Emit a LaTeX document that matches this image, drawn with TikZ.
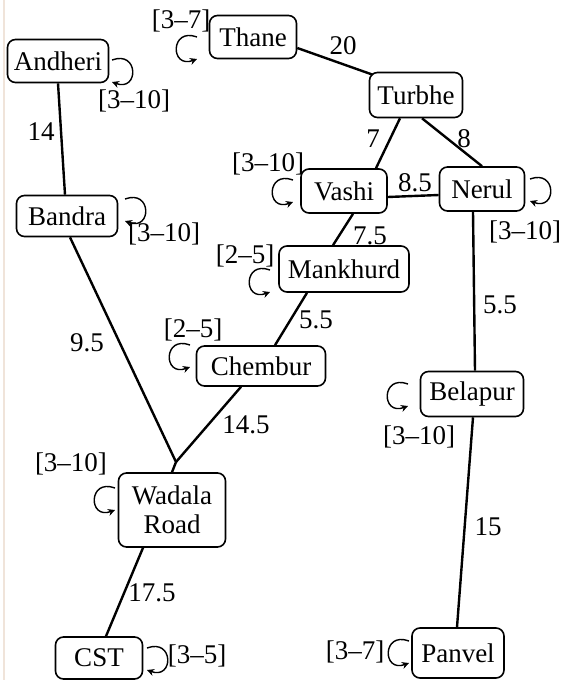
\documentclass[tikz,border=0pt]{standalone}
\usepackage{fontspec}
\setmainfont{Liberation Serif}
\usetikzlibrary{arrows.meta}
\definecolor{edgebeige}{RGB}{240,228,218}
\newcommand\loopL[2]{\draw[sloop] (#1+7,#2-11) .. controls (#1-20,#2-21) and (#1-20,#2+21) .. (#1+7,#2+11);}
\newcommand\loopR[2]{\draw[sloop] (#1-7,#2-11) .. controls (#1+20,#2-21) and (#1+20,#2+21) .. (#1-7,#2+11);}
\begin{document}
\begin{tikzpicture}[x=0.5pt,y=-0.5pt,
  txt/.style={font=\fontsize{13.5}{14.5}\selectfont},
  stn/.style={txt, draw, rounded corners=4pt, line width=0.8pt, inner sep=0pt, align=center, fill=white},
  edge/.style={line width=1.2pt},
  elab/.style={txt, inner sep=0pt},
  sloop/.style={line width=0.7pt, -{Stealth[length=3.5pt,width=3.5pt]}}]
\useasboundingbox (0,0) rectangle (564,680);
\draw[edgebeige, line width=1pt] (4,0) -- (4,680);

% stations
\node[stn, minimum width=43.5pt, minimum height=21.5pt] (thane) at (253,37) {Thane};
\node[stn, minimum width=50.5pt, minimum height=21.5pt] (andheri) at (58,61) {Andheri};
\node[stn, minimum width=46.5pt, minimum height=22.5pt] (turbhe) at (416,95) {Turbhe};
\node[stn, minimum width=43pt, minimum height=22pt] (vashi) at (344,191) {Vashi};
\node[stn, minimum width=42.5pt, minimum height=22pt] (nerul) at (482,189) {Nerul};
\node[stn, minimum width=50.5pt, minimum height=20.5pt] (bandra) at (67,216) {Bandra};
\node[stn, minimum width=65pt, minimum height=23pt] (mankhurd) at (344,269) {Mankhurd};
\node[stn, minimum width=64.5pt, minimum height=20pt] (chembur) at (261,366) {Chembur};
\node[stn, minimum width=51.5pt, minimum height=22.5pt] (belapur) at (472,394) {Belapur};
\node[stn, minimum width=53.5pt, minimum height=37pt] (wadala) at (172,510) {Wadala\\Road};
\node[stn, minimum width=43.5pt, minimum height=21pt] (cst) at (99,658) {CST};
\node[stn, minimum width=46pt, minimum height=25pt] (panvel) at (458,653) {Panvel};
\coordinate (wj) at (176,462);

% connections
\draw[edge] ([yshift=-5.5pt]thane.east) -- ([xshift=2pt,yshift=-1.5pt]turbhe.north west);
\draw[edge] (andheri.south) -- ([xshift=-1pt]bandra.north);
\draw[edge] ([xshift=-8pt]turbhe.south) -- ([xshift=16pt]vashi.north);
\draw[edge] ([xshift=3pt]turbhe.south) -- (nerul.north);
\draw[edge] ([yshift=-3pt]vashi.east) -- ([yshift=-3pt]nerul.west);
\draw[edge] ([xshift=4.5pt]vashi.south) -- ([xshift=-5.5pt]mankhurd.north);
\draw[edge] ([xshift=-4.5pt]nerul.south) -- ([xshift=1.5pt]belapur.north);
\draw[edge] ([xshift=-18.5pt]mankhurd.south) -- ([xshift=7pt]chembur.north);
\draw[edge] ([xshift=-10pt]chembur.south) -- (wj);
\draw[edge] ([xshift=1.5pt]bandra.south) -- (wj) -- (wadala.north);
\draw[edge] ([xshift=-14.5pt]wadala.south) -- ([xshift=3.5pt]cst.north);
\draw[edge] ([xshift=0.5pt]belapur.south) -- ([xshift=-0.5pt]panvel.north);

% distance labels
\node[elab] (l20) at (343,46) {20};
\node[elab] (l14) at (41,132) {14};
\node[elab] (l7) at (373,139) {7};
\node[elab] (l8) at (464,139) {8};
\node[elab] (l85) at (415,183) {8.5};
\node[elab] (l75) at (370,236) {7.5};
\node[elab] (l55a) at (316,320) {5.5};
\node[elab] (l55b) at (500,305) {5.5};
\node[elab] (l95) at (87,343) {9.5};
\node[elab] (l145) at (246,425) {14.5};
\node[elab] (l175) at (152,593) {17.5};
\node[elab] (l15) at (488,527) {15};

% self loops
\loopL{190}{48}
\loopR{119}{71}
\loopR{132}{210}
\loopL{286}{191}
\loopR{537}{190}
\loopL{263}{281}
\loopL{183}{356}
\loopL{401}{395}
\loopL{108}{499}
\loopR{154}{659}
\loopL{402}{652}

% loop labels
\node[elab] (s1) at (181,21) {[3–7]};
\node[elab] (s2) at (134,101) {[3–10]};
\node[elab] (s3) at (164,234) {[3–10]};
\node[elab] (s4) at (268,164) {[3–10]};
\node[elab] (s5) at (525,232) {[3–10]};
\node[elab] (s6) at (245,256) {[2–5]};
\node[elab] (s7) at (193,330) {[2–5]};
\node[elab] (s8) at (419,437) {[3–10]};
\node[elab] (s9) at (71,464) {[3–10]};
\node[elab] (s10) at (197,656) {[3–5]};
\node[elab] (s11) at (355,652) {[3–7]};
\end{tikzpicture}
\end{document}
